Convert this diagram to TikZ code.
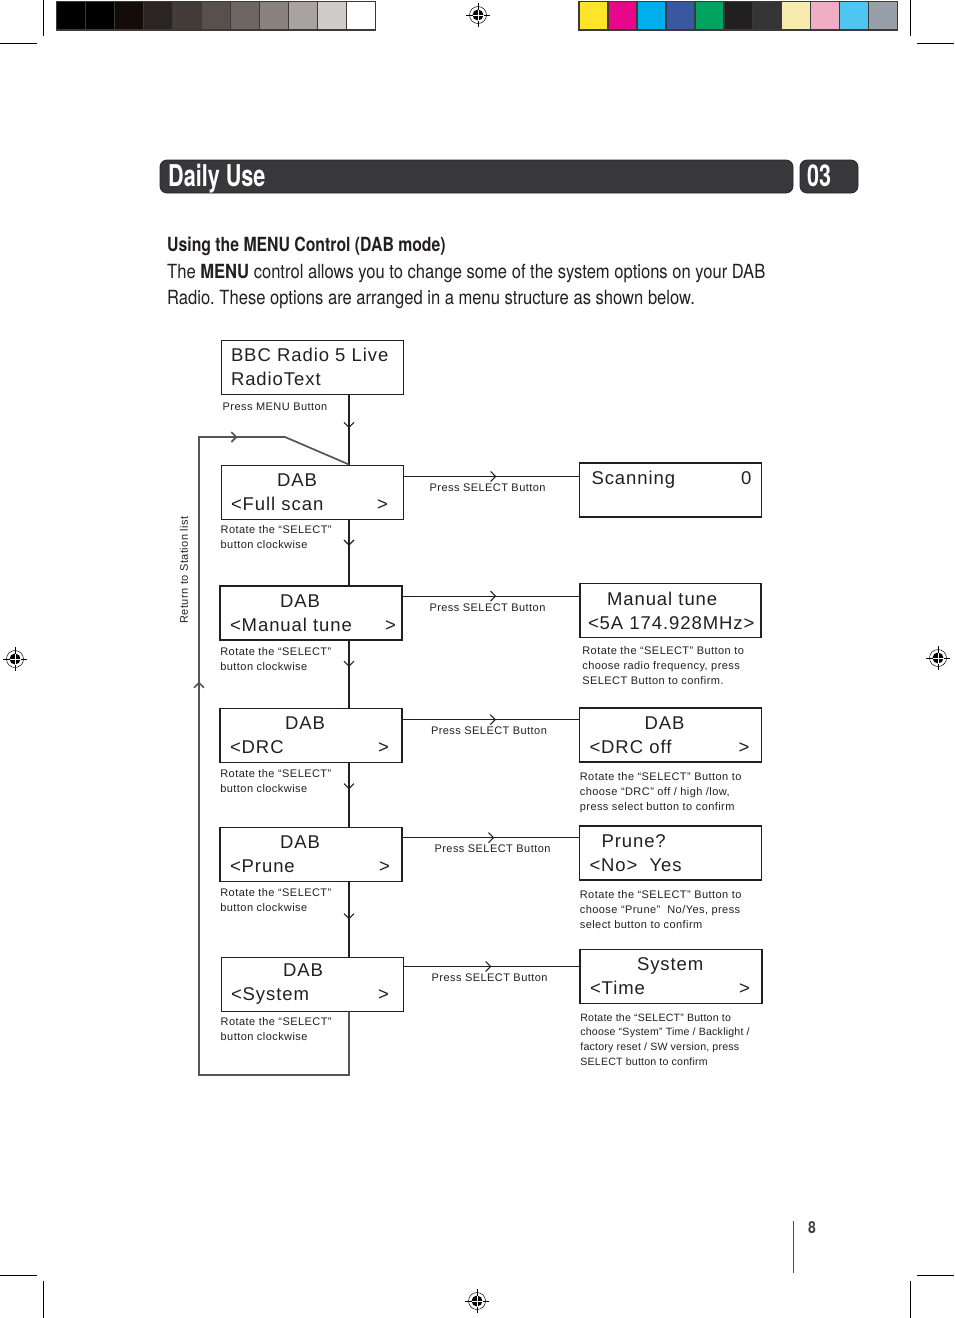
\documentclass[tikz,border=0pt]{standalone}
\usepackage{fontspec}
\setmainfont{Liberation Sans}
\newfontfamily\lcdfont{Liberation Sans}[LetterSpace=5]
\newfontfamily\notefont{Liberation Sans}[LetterSpace=4]
\newfontfamily\condfont{TeX Gyre Heros}[FakeStretch=0.85]
\newfontfamily\hdfont{TeX Gyre Heros}[FakeStretch=0.81]
\newfontfamily\headfont{TeX Gyre Heros}[FakeStretch=0.72]
\usetikzlibrary{arrows.meta,calc,decorations.markings}
\newcommand\pushr{\hskip 0pt plus 1filll\relax}
\frenchspacing

\definecolor{ink}{HTML}{231F20}
\definecolor{barcol}{HTML}{38383A}
\definecolor{retgray}{HTML}{555555}
\definecolor{frame}{HTML}{3A3A3A}
\definecolor{g1}{HTML}{000000}\definecolor{g2}{HTML}{000000}\definecolor{g3}{HTML}{130C08}
\definecolor{g4}{HTML}{2A2422}\definecolor{g5}{HTML}{433B38}\definecolor{g6}{HTML}{57504C}
\definecolor{g7}{HTML}{6E6663}\definecolor{g8}{HTML}{89827E}\definecolor{g9}{HTML}{A8A3A0}
\definecolor{g10}{HTML}{D0CCCB}\definecolor{g11}{HTML}{FFFFFF}
\definecolor{c1}{HTML}{FFE52A}\definecolor{c2}{HTML}{E8078B}\definecolor{c3}{HTML}{00AEEB}
\definecolor{c4}{HTML}{3A58A0}\definecolor{c5}{HTML}{00A45E}\definecolor{c6}{HTML}{221F20}
\definecolor{c7}{HTML}{353536}\definecolor{c8}{HTML}{F8EBB0}\definecolor{c9}{HTML}{EFAEC4}
\definecolor{c10}{HTML}{4FC6F2}\definecolor{c11}{HTML}{97A0A8}

\begin{document}
\begin{tikzpicture}[x=1pt, y=-1pt,
  lcd/.style={draw=ink, line width=1pt, text width=162pt, minimum height=54pt, inner xsep=10pt, inner ysep=0pt, align=left, text=ink, font=\lcdfont\fontsize{18.5}{24}\selectfont},
  lcdb/.style={lcd, line width=1.7pt},
  note/.style={inner sep=0pt, align=left, text=ink, font=\notefont\fontsize{11}{15.2}\selectfont},
  link/.style={draw=ink, line width=1.1pt},
  ret/.style={draw=retgray, line width=1.7pt},
  midtip/.style={postaction={decorate}, decoration={markings, mark=at position #1 with {\arrow{Straight Barb[length=5pt, width=10pt]}}}},
  bar/.style={fill=barcol, draw=black!85, rounded corners=7pt, line width=0.8pt}]
\useasboundingbox (0,0) rectangle (954,1318);
\fill[white] (0,0) rectangle (954,1318);

% printer marks
\fill[frame] (56,1) rectangle (375.6,30.7);
\foreach \i in {1,...,11} \fill[g\i] ({57.3+29*(\i-1)},2) rectangle ++(27.5,27.3);
\fill[frame] (577.7,1) rectangle (897.7,30.7);
\foreach \i in {1,...,11} \fill[c\i] ({579.7+28.96*(\i-1)},2) rectangle ++(27.2,27.3);
\draw[line width=0.8pt] (43,0) -- (43,36) (0,43) -- (37,43) (910,0) -- (910,36) (917,43) -- (954,43)
  (0,1275) -- (37,1275) (43,1281) -- (43,1318) (917,1275) -- (954,1275) (910,1281) -- (910,1318);
\foreach \rx/\ry in {478/15, 15/659, 938/658, 477/1301} {
  \draw[line width=0.5pt] (\rx,\ry) circle[radius=8.5pt];
  \fill (\rx,\ry) circle[radius=5.5pt];
  \draw[line width=0.6pt] (\rx-12,\ry) -- (\rx+12,\ry) (\rx,\ry-12) -- (\rx,\ry+12);
  \draw[white, line width=0.7pt] (\rx-5.5,\ry) -- (\rx+5.5,\ry) (\rx,\ry-5.5) -- (\rx,\ry+5.5);
}

% header
\draw[bar] (160,160) rectangle (793,193);
\draw[bar] (800,160) rectangle (858,193);
\node[anchor=base west, inner sep=0pt, text=white, font=\headfont\bfseries\fontsize{30}{30}\selectfont] (title) at (168,186) {Daily Use};
\node[anchor=base west, inner sep=0pt, text=white, font=\headfont\bfseries\fontsize{30}{30}\selectfont] (chap) at (807,186) {03};
\node[anchor=base west, inner sep=0pt, text=ink, font=\hdfont\bfseries\fontsize{19.5}{26}\selectfont] (usehd) at (167,251) {Using the MENU Control (DAB mode)};
\node[anchor=base west, inner sep=0pt, text=ink, font=\condfont\fontsize{19.5}{26}\selectfont] (intro1) at (167,278) {The \textbf{MENU} control allows you to change some of the system options on your DAB};
\node[anchor=base west, inner sep=0pt, text=ink, font=\condfont\fontsize{19.5}{26}\selectfont] (intro2) at (167,304) {Radio. These options are arranged in a menu structure as shown below.};

% menu boxes
\coordinate (spine) at (349,0);
\node[lcd] (bbc) at (312,367) {BBC Radio 5 Live\\RadioText};
\node[lcd] (full) at (312,492) {\hspace*{46pt}DAB\\<Full scan\pushr>\hspace*{5pt}};
\node[lcdb] (man) at (311,613) {\hspace*{50pt}DAB\\<Manual tune\pushr>\hspace*{-4pt}};
\node[lcdb] (drc) at (311,735.5) {\hspace*{55pt}DAB\\<DRC\pushr>\hspace*{3pt}};
\node[lcdb] (prune) at (311,854.5) {\hspace*{50pt}DAB\\<Prune\pushr>\hspace*{2pt}};
\node[lcd] (sys) at (312,984) {\hspace*{52pt}DAB\\<System\pushr>\hspace*{4pt}};

\node[lcdb] (scan) at (670.5,490) {\hspace*{2pt}Scanning\pushr 0\hspace*{9pt}\\\mbox{}};
\node[lcdb, inner xsep=3pt, text width=175pt] (tune) at (670.5,610.5) {\hspace*{24pt}Manual tune\\\hspace*{5pt}<5A 174.928MHz>};
\node[lcdb] (drcoff) at (670.5,735) {\hspace*{55pt}DAB\\<DRC off\pushr>\hspace*{2pt}};
\node[lcdb] (prq) at (670.5,853) {\hspace*{12pt}Prune?\\<No>\hspace{12pt}Yes};
\node[lcdb] (time) at (671,976.5) {\hspace*{47pt}System\\<Time\pushr>\hspace*{2pt}};

% notes
\node[note, anchor=north west] (pmenu) at ($(bbc.south west)+(2,8)$) {Press MENU Button};
\node[note, anchor=north west] (rot1) at ($(full.south west)+(0,6)$) {Rotate the “SELECT”\\button clockwise};
\node[note, anchor=north west] (rot2) at ($(man.south west)+(1,6)$) {Rotate the “SELECT”\\button clockwise};
\node[note, anchor=north west] (rot3) at ($(drc.south west)+(1,6)$) {Rotate the “SELECT”\\button clockwise};
\node[note, anchor=north west] (rot4) at ($(prune.south west)+(1,6)$) {Rotate the “SELECT”\\button clockwise};
\node[note, anchor=north west] (rot5) at ($(sys.south west)+(0,6)$) {Rotate the “SELECT”\\button clockwise};
\node[note, anchor=north west] (dtune) at ($(tune.south west)+(3,8)$) {Rotate the “SELECT” Button to\\choose radio frequency, press\\SELECT Button to confirm.};
\node[note, anchor=north west] (ddrc) at ($(drcoff.south west)+(1,9)$) {Rotate the “SELECT” Button to\\choose “DRC” off / high /low,\\press select button to confirm};
\node[note, anchor=north west] (dprq) at ($(prq.south west)+(1,9)$) {Rotate the “SELECT” Button to\\choose “Prune”\ \ No/Yes, press\\select button to confirm};
\node[note, anchor=north west, font=\notefont\fontsize{10.6}{14.7}\selectfont\addfontfeature{LetterSpace=2}] (dtime) at ($(time.south west)+(1,9)$) {Rotate the “SELECT” Button to\\choose “System” Time / Backlight /\\factory reset / SW version, press\\SELECT button to confirm};
\node[note, rotate=90] (rtsl) at (184,570) {Return to Station list};

% down the menu
\draw[link, midtip=0.48] (bbc.south -| spine) -- (full.north -| spine);
\draw[link, midtip=0.4] (full.south -| spine) -- (man.north -| spine);
\draw[link, midtip=0.39] (man.south -| spine) -- (drc.north -| spine);
\draw[link, midtip=0.41] (drc.south -| spine) -- (prune.north -| spine);
\draw[link, midtip=0.5] (prune.south -| spine) -- (sys.north -| spine);

% across to the settings
\coordinate (s1) at ([yshift=-12pt]full.north east);
\coordinate (s2) at ([yshift=-11pt]man.north east);
\coordinate (s3) at ([yshift=-12pt]drc.north east);
\coordinate (s4) at ([yshift=-11pt]prune.north east);
\coordinate (s5) at ([yshift=-10pt]sys.north east);
\draw[link, midtip=0.53] (s1) -- (s1 -| scan.west) node[note, below=7pt, pos=0.48] (ps1) {Press SELECT Button};
\draw[link, midtip=0.53] (s2) -- (s2 -| tune.west) node[note, below=7pt, pos=0.48] (ps2) {Press SELECT Button};
\draw[link, midtip=0.53] (s3) -- (s3 -| drcoff.west) node[note, below=7pt, pos=0.49] (ps3) {Press SELECT Button};
\draw[link, midtip=0.52] (s4) -- (s4 -| prq.west) node[note, below=7pt, pos=0.51] (ps4) {Press SELECT Button};
\draw[link, midtip=0.5] (s5) -- (s5 -| time.west) node[note, below=7pt, pos=0.49] (ps5) {Press SELECT Button};

% back to the station list
\coordinate (retL) at (199,1075);
\coordinate (retT) at (199,437);
\coordinate (retK) at (285,437);
\draw[ret, postaction={decorate}, decoration={markings,
    mark=at position 607pt with {\arrow{Straight Barb[length=5pt, width=10pt]}},
    mark=at position 890pt with {\arrow{Straight Barb[length=5pt, width=10pt]}}}]
  (sys.south -| spine) -- (spine |- retL) -- (retL) -- (retT) -- (retK) -- (full.north -| spine);

% page number
\draw[black!70, line width=0.8pt] (793,1221) -- (793,1273);
\node[anchor=base west, inner sep=0pt, text=black!75, font=\condfont\bfseries\fontsize{16.5}{17}\selectfont] (pgno) at (808,1233) {8};
\end{tikzpicture}
\end{document}
